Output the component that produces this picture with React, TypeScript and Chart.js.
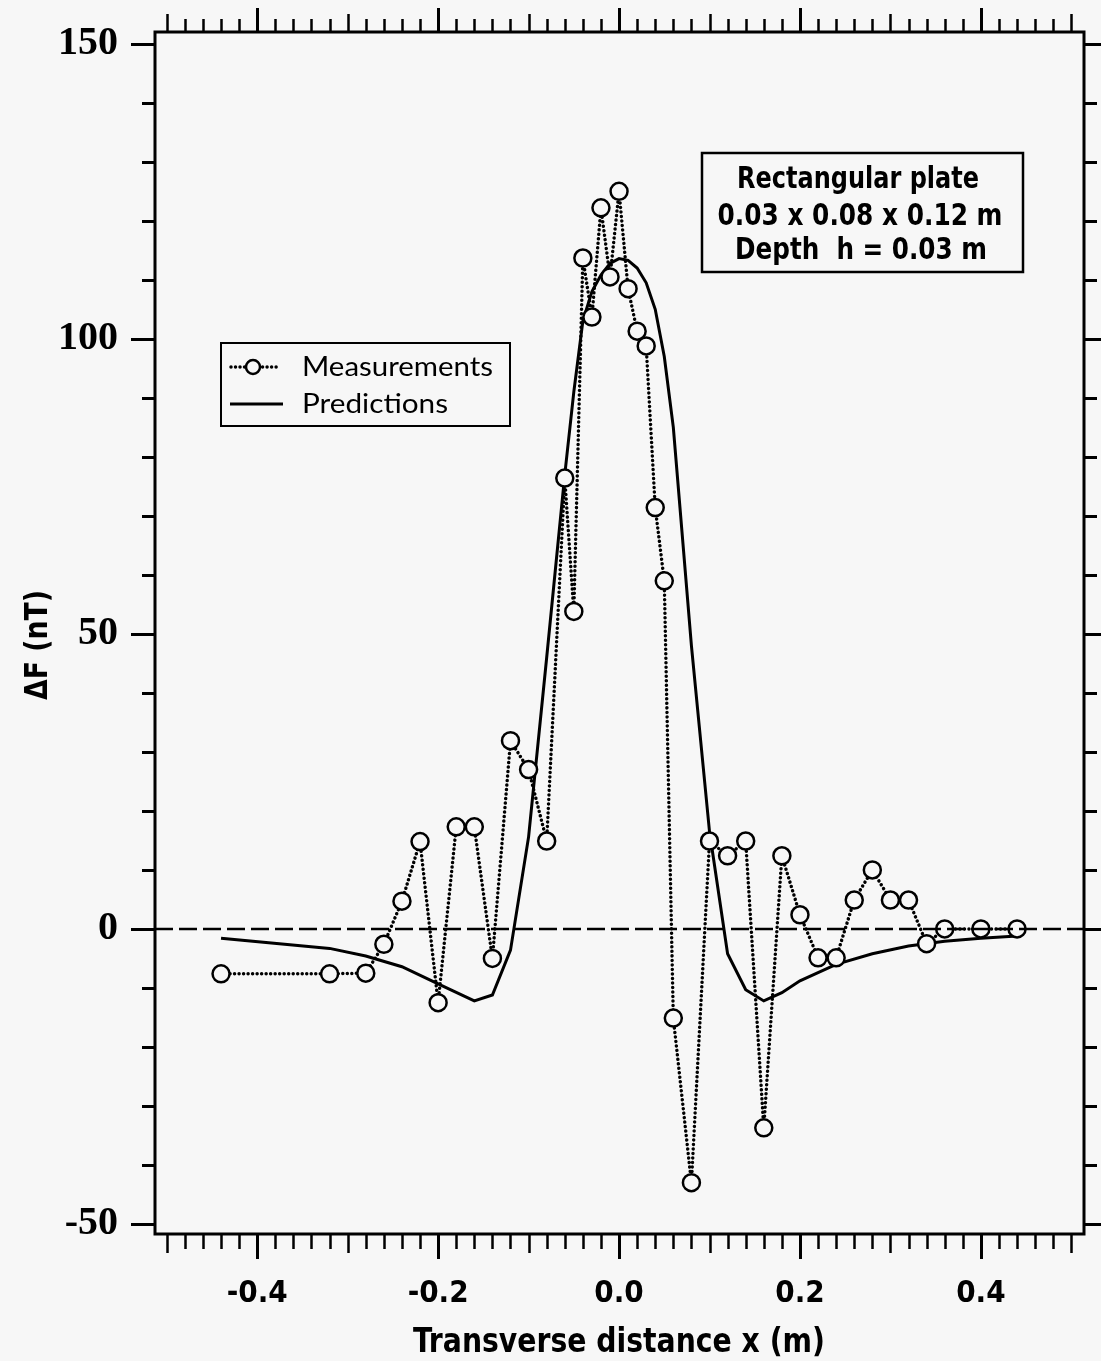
import React, { useEffect, useRef } from "react";
import { Chart, registerables } from "chart.js";

Chart.register(...registerables);

// ---- data ----
const measX = [-0.44, -0.32, -0.28, -0.26, -0.24, -0.22, -0.2, -0.18, -0.16, -0.14, -0.12, -0.1, -0.08, -0.06, -0.05, -0.04, -0.03, -0.02, -0.01, 0.0, 0.01, 0.02, 0.03, 0.04, 0.05, 0.06, 0.08, 0.1, 0.12, 0.14, 0.16, 0.18, 0.2, 0.22, 0.24, 0.26, 0.28, 0.3, 0.32, 0.34, 0.36, 0.4, 0.44];
const measY = [-7.6, -7.6, -7.5, -2.6, 4.7, 14.8, -12.5, 17.3, 17.3, -5.0, 31.9, 27.0, 14.9, 76.4, 53.8, 113.7, 103.7, 122.2, 110.5, 125.0, 108.5, 101.3, 98.8, 71.4, 59.0, -15.1, -43.0, 14.9, 12.4, 14.9, -33.7, 12.4, 2.4, -4.9, -4.9, 4.9, 10.0, 4.9, 4.9, -2.5, 0, 0, 0];

const predX = [-0.44, -0.32, -0.28, -0.24, -0.2, -0.16, -0.14, -0.12, -0.1, -0.08, -0.06, -0.05, -0.04, -0.03, -0.02, -0.01, 0.0, 0.01, 0.02, 0.03, 0.04, 0.05, 0.06, 0.08, 0.1, 0.12, 0.14, 0.16, 0.18, 0.2, 0.24, 0.28, 0.32, 0.36, 0.4, 0.44];
const predY = [-1.6, -3.3, -4.6, -6.4, -9.3, -12.2, -11.2, -3.6, 15.6, 46, 77, 91, 103, 108, 110.8, 112.8, 113.6, 113.3, 112, 109.5, 105, 97, 85, 48, 16.5, -4.2, -10.3, -12.2, -10.8, -8.8, -6, -4.2, -2.9, -2.1, -1.6, -1.2];

const xTickLabels = [-0.4, -0.2, 0.0, 0.2, 0.4];
const yTickLabels = [-50, 0, 50, 100, 150];

const legendLabels = ["Measurements", "Predictions"];
const noteLines = ["Rectangular plate", "0.03 x 0.08 x 0.12 m", "Depth  h = 0.03 m"];
const xTitle = "Transverse distance x (m)";
const yTitle = "\u0394F (nT)";

const X_MIN = -0.513;
const X_MAX = 0.514;
const Y_MIN = -51.7;
const Y_MAX = 152;

const BG = "#f7f7f7";
const COND = "'DejaVu Sans Condensed', 'Liberation Sans Narrow', 'Roboto Condensed', 'DejaVu Sans', sans-serif";
const SERIF = "'Liberation Serif', 'DejaVu Serif', serif";
const LEG = "Lato, 'Open Sans', sans-serif";

function fitText(ctx: CanvasRenderingContext2D, text: string, x: number, y: number, font: string, width: number, align: "center" | "left" = "center") {
  ctx.save();
  ctx.font = font;
  ctx.textBaseline = "alphabetic";
  ctx.textAlign = "left";
  const m = ctx.measureText(text).width;
  const s = width / m;
  const x0 = align === "center" ? x - width / 2 : x;
  ctx.translate(x0, y);
  ctx.scale(s, 1);
  ctx.fillStyle = "#000";
  ctx.fillText(text, 0, 0);
  ctx.restore();
}

const deco = {
  id: "deco",
  beforeDraw(chart: any) {
    const ctx = chart.ctx;
    ctx.save();
    ctx.fillStyle = BG;
    ctx.fillRect(0, 0, chart.width, chart.height);
    ctx.restore();
  },
  afterDatasetsDraw(chart: any) {
    const ctx = chart.ctx;
    const { left, right } = chart.chartArea;
    const y0 = chart.scales.y.getPixelForValue(0);
    ctx.save();
    ctx.strokeStyle = "#000";
    ctx.lineWidth = 2.5;
    ctx.setLineDash([18, 6]);
    ctx.beginPath();
    ctx.moveTo(left, y0);
    ctx.lineTo(right, y0);
    ctx.stroke();
    ctx.restore();
  },
  afterDraw(chart: any) {
    const ctx: CanvasRenderingContext2D = chart.ctx;
    const { left, right, top, bottom } = chart.chartArea;
    const xs = chart.scales.x;
    const ys = chart.scales.y;
    ctx.save();
    ctx.strokeStyle = "#000";
    ctx.lineCap = "butt";
    // frame
    ctx.lineWidth = 3;
    ctx.strokeRect(left, top, right - left, bottom - top);
    // x ticks (top & bottom)
    for (let i = -25; i <= 25; i++) {
      const v = i * 0.02;
      if (v < X_MIN || v > X_MAX) continue;
      const px = Math.round(xs.getPixelForValue(v)) + 0.5;
      const major = i % 10 === 0;
      const medium = !major && i % 5 === 0;
      const lb = major ? 25 : medium ? 19 : 15;
      const lt = major ? 24 : medium ? 18 : 13;
      ctx.lineWidth = major ? 3 : 2.5;
      ctx.beginPath();
      ctx.moveTo(px, bottom);
      ctx.lineTo(px, bottom + lb);
      ctx.moveTo(px, top);
      ctx.lineTo(px, top - lt);
      ctx.stroke();
    }
    // y ticks (left & right)
    for (let v = -50; v <= 150; v += 10) {
      const py = Math.round(ys.getPixelForValue(v)) + 0.5;
      const major = v % 50 === 0;
      const l = major ? 24 : 13;
      ctx.lineWidth = 3;
      ctx.beginPath();
      ctx.moveTo(left, py);
      ctx.lineTo(left - l, py);
      ctx.moveTo(right, py);
      ctx.lineTo(right + l, py);
      ctx.stroke();
    }
    ctx.restore();

    // legend box
    ctx.save();
    ctx.strokeStyle = "#000";
    ctx.lineWidth = 2;
    ctx.strokeRect(221, 343, 289, 83);
    // measurements sample
    ctx.lineWidth = 3.5;
    ctx.lineCap = "round";
    ctx.setLineDash([0.01, 4.5]);
    ctx.beginPath();
    ctx.moveTo(231, 367);
    ctx.lineTo(280, 367);
    ctx.stroke();
    ctx.setLineDash([]);
    ctx.fillStyle = BG;
    ctx.lineWidth = 2.5;
    ctx.beginPath();
    ctx.arc(253, 367, 7, 0, Math.PI * 2);
    ctx.fill();
    ctx.stroke();
    // predictions sample
    ctx.lineCap = "butt";
    ctx.lineWidth = 3;
    ctx.beginPath();
    ctx.moveTo(230, 404);
    ctx.lineTo(283, 404);
    ctx.stroke();
    ctx.restore();
    fitText(ctx, legendLabels[0], 302, 376, `400 27px ${LEG}`, 191, "left");
    fitText(ctx, legendLabels[1], 302, 413, `400 27px ${LEG}`, 146, "left");

    // annotation box
    ctx.save();
    ctx.strokeStyle = "#000";
    ctx.lineWidth = 2.5;
    ctx.strokeRect(702, 153, 321, 119);
    ctx.restore();
    fitText(ctx, noteLines[0], 858, 188, `bold 30px ${COND}`, 242);
    fitText(ctx, noteLines[1], 860, 225, `bold 30px ${COND}`, 285);
    fitText(ctx, noteLines[2], 861, 259, `bold 30px ${COND}`, 252);

    // axis titles
    fitText(ctx, xTitle, 619, 1352, `bold 34px ${COND}`, 412);
    ctx.save();
    ctx.translate(47, 645);
    ctx.rotate(-Math.PI / 2);
    fitText(ctx, yTitle, 0, 0, `bold 32px ${COND}`, 110);
    ctx.restore();
  },
};

export default function App() {
  const ref = useRef<HTMLCanvasElement>(null);
  useEffect(() => {
    document.body.style.margin = "0";
    document.body.style.background = BG;
    const canvas = ref.current!;
    const chart = new Chart(canvas, {
      type: "line",
      data: {
        datasets: [
          {
            label: legendLabels[0],
            data: measX.map((x, i) => ({ x, y: measY[i] })),
            borderColor: "#000",
            borderWidth: 3.5,
            borderDash: [0.01, 4.5],
            borderCapStyle: "round",
            pointRadius: 8.5,
            pointBorderWidth: 2.5,
            pointBorderColor: "#000",
            pointBackgroundColor: BG,
            tension: 0,
            fill: false,
          },
          {
            label: legendLabels[1],
            data: predX.map((x, i) => ({ x, y: predY[i] })),
            borderColor: "#000",
            borderWidth: 3,
            pointRadius: 0,
            tension: 0,
            fill: false,
          },
        ],
      },
      options: {
        responsive: false,
        animation: false,
        devicePixelRatio: 1,
        layout: { padding: { top: 32, right: 17, left: 0, bottom: 0 } },
        plugins: { legend: { display: false }, tooltip: { enabled: false } },
        scales: {
          x: {
            type: "linear",
            min: X_MIN,
            max: X_MAX,
            grid: { display: false, drawTicks: false },
            border: { display: false },
            ticks: {
              color: "#000",
              font: { family: COND, size: 31, weight: "bold" },
              padding: 41,
              maxRotation: 0,
              callback: (v: any) => Number(v).toFixed(1),
            },
            afterBuildTicks: (s: any) => {
              s.ticks = xTickLabels.map((v) => ({ value: v }));
            },
            afterFit: (s: any) => {
              s.height = 127;
              s.paddingLeft = 0;
              s.paddingRight = 0;
            },
          },
          y: {
            type: "linear",
            min: Y_MIN,
            max: Y_MAX,
            grid: { display: false, drawTicks: false },
            border: { display: false },
            ticks: {
              color: "#000",
              font: { family: SERIF, size: 40, weight: "bold" },
              padding: 37,
              callback: (v: any) => String(v),
            },
            afterBuildTicks: (s: any) => {
              s.ticks = yTickLabels.map((v) => ({ value: v }));
            },
            afterFit: (s: any) => {
              s.width = 155;
              s.paddingTop = 0;
              s.paddingBottom = 0;
            },
          },
        },
      },
      plugins: [deco],
    } as any);
    return () => chart.destroy();
  }, []);
  return <canvas ref={ref} width={1101} height={1361} style={{ display: "block" }} />;
}
